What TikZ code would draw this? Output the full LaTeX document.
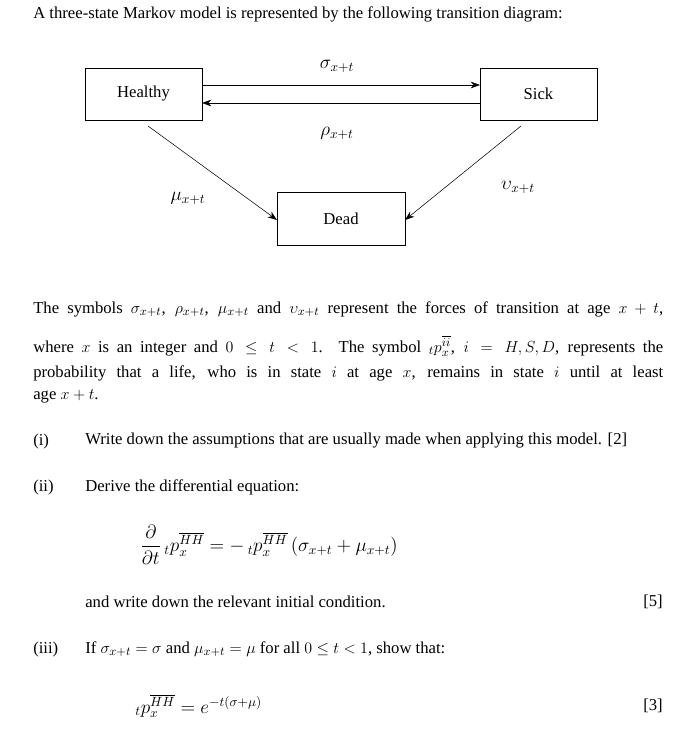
\documentclass[tikz,border=0pt]{standalone}
\usepackage{amsmath}
\usepackage{fontspec}
\setmainfont{Liberation Serif}
\usetikzlibrary{arrows.meta}
\begin{document}
\begin{tikzpicture}[x=0.75pt,y=-0.75pt,
  st/.style={draw,minimum width=87.75pt,minimum height=39pt,inner sep=0pt,font=\fontsize{12.5}{15}\selectfont},
  ar/.style={-{Stealth[length=7pt,width=5pt]},thin},
  lab/.style={font=\fontsize{14}{16}\selectfont},
  jl/.style={anchor=west,text width=472.5pt,align=justify,inner sep=0pt,font=\fontsize{12.5}{15}\selectfont},
  tl/.style={anchor=west,inner sep=0pt,font=\fontsize{12.5}{15}\selectfont}]
\useasboundingbox (0,0) rectangle (695,752);
\node[tl] (t0) at (33,14) {A three-state Markov model is represented by the following transition diagram:};
\node[st] (H) at (143.5,94) {Healthy};
\node[st] (S) at (538.5,94) {Sick};
\node[st,minimum width=96pt,minimum height=40pt] (D) at (341,218.5) {Dead};
\coordinate (h1) at (202,85); \coordinate (s1) at (480,85);
\coordinate (h2) at (202,103); \coordinate (s2) at (480,103);
\draw[ar] (h1) -- (s1);
\draw[ar] (s2) -- (h2);
\coordinate (ha) at (148,126); \coordinate (da) at (277,220);
\coordinate (sa) at (521,126); \coordinate (db) at (405,220);
\draw[ar] (ha) -- (da);
\draw[ar] (sa) -- (db);
\node[lab] (ls) at (337,66) {$\sigma_{x+t}$};
\node[lab] (lr) at (337,133) {$\rho_{x+t}$};
\node[lab] (lm) at (188,198) {$\mu_{x+t}$};
\node[lab] (lu) at (518,187) {$\upsilon_{x+t}$};
\node[jl] (p1) at (33,309) {{\parfillskip=0pt The symbols $\sigma_{x+t}$, $\rho_{x+t}$, $\mu_{x+t}$ and $\upsilon_{x+t}$ represent the forces of transition at age $x+t$,\par}};
\node[jl] (p2) at (33,346) {{\parfillskip=0pt where $x$ is an integer and $0\le t<1$. The symbol ${}_t p_x^{\overline{ii}}$, $i=H,S,D$, represents the\par}};
\node[jl] (p3) at (33,373) {{\parfillskip=0pt probability that a life, who is in state $i$ at age $x$, remains in state $i$ until at least\par}};
\node[tl] (p4) at (33,396) {age $x+t$.};
\node[tl] (i1) at (33,441) {(i)};
\node[tl] (i1t) at (85,441) {Write down the assumptions that are usually made when applying this model. [2]};
\node[tl] (i2) at (33,487) {(ii)};
\node[tl] (i2t) at (85,487) {Derive the differential equation:};
\node[tl,font=\fontsize{14}{16}\selectfont] (e1) at (140,545) {$\dfrac{\partial}{\partial t}\,{}_t p_x^{\overline{HH}} = -\,{}_t p_x^{\overline{HH}}\left(\sigma_{x+t}+\mu_{x+t}\right)$};
\node[tl] (i2u) at (85,602) {and write down the relevant initial condition.};
\node[tl,anchor=east] (m5) at (663,602) {[5]};
\node[tl] (i3) at (33,649) {(iii)};
\node[tl] (i3t) at (85,649) {If $\sigma_{x+t}=\sigma$ and $\mu_{x+t}=\mu$ for all $0\le t<1$, show that:};
\node[tl,font=\fontsize{14}{16}\selectfont] (e2) at (135,706) {${}_t p_x^{\overline{HH}} = e^{-t(\sigma+\mu)}$};
\node[tl,anchor=east] (m3) at (663,706) {[3]};
\end{tikzpicture}
\end{document}
